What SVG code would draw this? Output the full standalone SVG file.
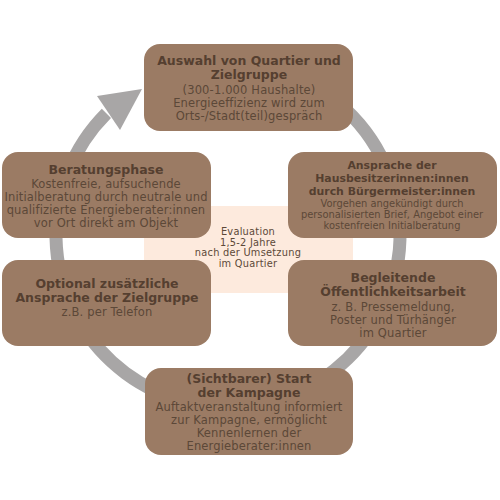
<svg xmlns="http://www.w3.org/2000/svg" width="500" height="500" viewBox="0 0 500 500">
  <style>
    .box { fill: #9b7b64; }
    .t { font-family: "DejaVu Sans", "Noto Sans", sans-serif; text-anchor: middle; }
    .b { font-weight: 700; font-size: 12.5px; fill: #553f30; }
    .b2 { font-weight: 700; font-size: 10.9px; fill: #553f30; }
    .r { font-weight: 400; font-size: 11.5px; letter-spacing: 0.15px; fill: #5c4838; }
    .s { font-weight: 400; font-size: 9.9px; fill: #5c4838; }
    .e { font-weight: 400; font-size: 9.8px; letter-spacing: 0.25px; fill: #5c4838; }
    .ring { fill: none; stroke: #a8a6a6; stroke-width: 13; }
  </style>
  <rect x="144" y="206" width="209" height="87" fill="#fdeadd"/>
  <g id="connectors">
    <path class="ring" d="M 286.8 73.4 A 172 172 0 1 1 106.4 113.4"/>
    <polygon points="142,89 97,96 120,130" fill="#a8a6a6"/>
  </g>
  <g id="evaluation">
    <text class="t e" x="248" y="235">Evaluation</text>
    <text class="t e" x="248" y="245.5">1,5-2 Jahre</text>
    <text class="t e" x="248" y="256">nach der Umsetzung</text>
    <text class="t e" x="248" y="266.5">im Quartier</text>
  </g>
  <g id="n-auswahl">
    <rect class="box" x="144" y="44" width="209" height="87" rx="16"/>
    <text class="t b" x="249" y="65">Auswahl von Quartier und</text>
    <text class="t b" x="249" y="79">Zielgruppe</text>
    <text class="t r" x="249" y="94">(300-1.000 Haushalte)</text>
    <text class="t r" x="249" y="107">Energieeffizienz wird zum</text>
    <text class="t r" x="249" y="120">Orts-/Stadt(teil)gespräch</text>
  </g>
  <g id="n-ansprache">
    <rect class="box" x="288" y="152" width="209" height="86" rx="16"/>
    <text class="t b2" x="392" y="169">Ansprache der</text>
    <text class="t b2" x="392" y="182">Hausbesitzerinnen:innen</text>
    <text class="t b2" x="392" y="195">durch Bürgermeister:innen</text>
    <text class="t s" x="392" y="206.5">Vorgehen angekündigt durch</text>
    <text class="t s" x="392" y="217.5">personalisierten Brief, Angebot einer</text>
    <text class="t s" x="392" y="228.5">kostenfreien Initialberatung</text>
  </g>
  <g id="n-oeffentlichkeit">
    <rect class="box" x="288" y="260" width="209" height="86" rx="16"/>
    <text class="t b" x="393" y="282">Begleitende</text>
    <text class="t b" x="393" y="296">Öffentlichkeitsarbeit</text>
    <text class="t r" x="393" y="311">z. B. Pressemeldung,</text>
    <text class="t r" x="393" y="324">Poster und Türhänger</text>
    <text class="t r" x="393" y="337">im Quartier</text>
  </g>
  <g id="n-start">
    <rect class="box" x="145" y="368" width="208" height="87" rx="16"/>
    <text class="t b" x="249" y="383">(Sichtbarer) Start</text>
    <text class="t b" x="249" y="397">der Kampagne</text>
    <text class="t r" x="249" y="411">Auftaktveranstaltung informiert</text>
    <text class="t r" x="249" y="424">zur Kampagne, ermöglicht</text>
    <text class="t r" x="249" y="437">Kennenlernen der</text>
    <text class="t r" x="249" y="450">Energieberater:innen</text>
  </g>
  <g id="n-optional">
    <rect class="box" x="2" y="260" width="209" height="86" rx="16"/>
    <text class="t b" x="107" y="288">Optional zusätzliche</text>
    <text class="t b" x="107" y="302">Ansprache der Zielgruppe</text>
    <text class="t r" x="107" y="316">z.B. per Telefon</text>
  </g>
  <g id="n-beratung">
    <rect class="box" x="2" y="152" width="209" height="86" rx="16"/>
    <text class="t b" x="106" y="174">Beratungsphase</text>
    <text class="t r" x="106" y="187.5">Kostenfreie, aufsuchende</text>
    <text class="t r" x="106" y="200.5">Initialberatung durch neutrale und</text>
    <text class="t r" x="106" y="213.5">qualifizierte Energieberater:innen</text>
    <text class="t r" x="106" y="226.5">vor Ort direkt am Objekt</text>
  </g>
</svg>
